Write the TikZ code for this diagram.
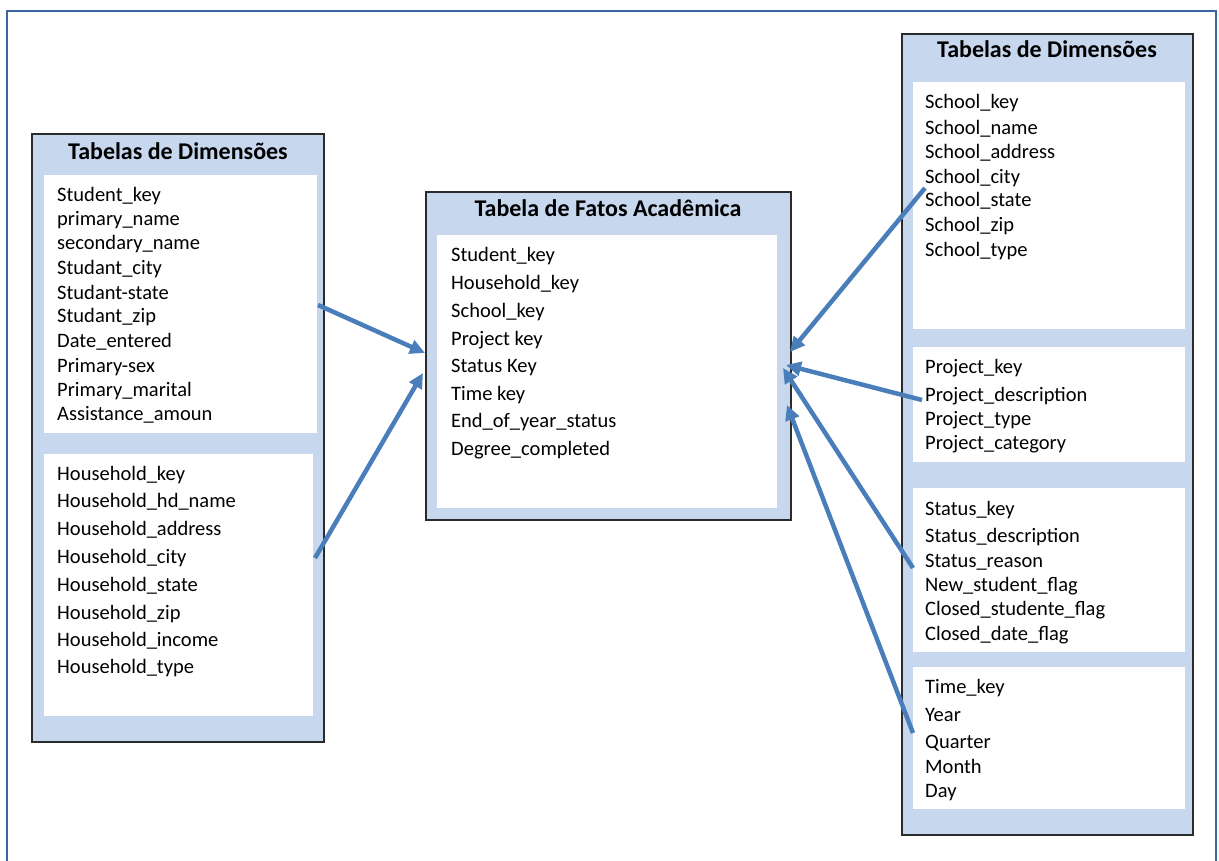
\documentclass[tikz,border=0pt]{standalone}
\usepackage{fontspec}
\setmainfont{Carlito}
\usetikzlibrary{arrows.meta,fit}

\definecolor{frameblue}{HTML}{3A64A2}
\definecolor{bandblue}{HTML}{C6D7EE}
\definecolor{linkblue}{HTML}{4A7EBB}
\definecolor{boxline}{HTML}{2B2B2B}

\tikzset{
  tablebox/.style={draw=boxline, line width=1.3pt, fill=bandblue, inner sep=0pt},
  panel/.style={fill=white, draw=none, inner sep=0pt},
  tabletitle/.style={anchor=base, inner sep=0pt, font=\fontsize{24}{28}\selectfont\bfseries},
  field/.style={anchor=base west, inner sep=0pt, font=\fontsize{20.5}{24}\selectfont},
  link/.style={draw=linkblue, line width=4.5pt, -{Triangle[length=15pt,width=14pt]}}
}

\begin{document}
\begin{tikzpicture}[x=1pt,y=-1pt]
\useasboundingbox (0,0) rectangle (1219,861);
\clip (0,0) rectangle (1219,861);

% outer frame
\draw[frameblue, line width=2pt] (7,11) rectangle (1216,880);

% left dimension tables
\node[tablebox, fit={(32,134) (324,742)}] (L) {};
\node[panel, fit={(44,175) (317,433)}] (Lstudent) {};
\node[panel, fit={(44,454) (313,716)}] (Lhouse) {};
\node[tabletitle] (Ltitle) at (178,160) {Tabelas de Dimensões};
\foreach \yy/\t [count=\i] in {202/Student\_key, 226/primary\_name, 250/secondary\_name,
    275/Studant\_city, 299/Studant-state, 323/Studant\_zip, 347/Date\_entered,
    372/Primary-sex, 396/Primary\_marital, 420/Assistance\_amoun}
  \node[field] (ls\i) at (57,\yy) {\t};
\foreach \yy/\t [count=\i] in {480/Household\_key, 507/Household\_hd\_name,
    535/Household\_address, 563/Household\_city, 591/Household\_state,
    619/Household\_zip, 646/Household\_income, 673/Household\_type}
  \node[field] (lh\i) at (57,\yy) {\t};

% fact table
\node[tablebox, fit={(426,192) (791,520)}] (F) {};
\node[panel, fit={(437,235) (777,508)}] (Fpanel) {};
\node[tabletitle] (Ftitle) at (608,217) {Tabela de Fatos Acadêmica};
\foreach \yy/\t [count=\i] in {262/Student\_key, 290/Household\_key, 317/School\_key,
    345/Project key, 372/Status Key, 400/Time key, 427/End\_of\_year\_status,
    455/Degree\_completed}
  \node[field] (f\i) at (451,\yy) {\t};

% right dimension tables
\node[tablebox, fit={(902,34) (1193,835)}] (R) {};
\node[panel, fit={(913,82) (1185,329)}] (Rschool) {};
\node[panel, fit={(913,347) (1185,462)}] (Rproject) {};
\node[panel, fit={(913,488) (1185,652)}] (Rstatus) {};
\node[panel, fit={(913,667) (1185,809)}] (Rtime) {};
\node[tabletitle] (Rtitle) at (1047,58) {Tabelas de Dimensões};
\foreach \yy/\t [count=\i] in {109/School\_key, 135/School\_name, 159/School\_address,
    184/School\_city, 207/School\_state, 232/School\_zip, 257/School\_type}
  \node[field] (rs\i) at (925,\yy) {\t};
\foreach \yy/\t [count=\i] in {373/Project\_key, 401/Project\_description,
    425/Project\_type, 449/Project\_category}
  \node[field] (rp\i) at (925,\yy) {\t};
\foreach \yy/\t [count=\i] in {515/Status\_key, 542/Status\_description,
    567/Status\_reason, 591/New\_student\_flag, 615/Closed\_studente\_flag,
    640/Closed\_date\_flag}
  \node[field] (rt\i) at (925,\yy) {\t};
\foreach \yy/\t [count=\i] in {693/Time\_key, 721/Year, 748/Quarter, 773/Month, 797/Day}
  \node[field] (rm\i) at (925,\yy) {\t};

% connector end points
\coordinate (s1) at (318,305);  \coordinate (t1) at (425,353);
\coordinate (s2) at (315,558);  \coordinate (t2) at (423,373);
\coordinate (s3) at (925,188);  \coordinate (t3) at (790,352);
\coordinate (s4) at (922,400);  \coordinate (t4) at (786,365);
\coordinate (s5) at (913,568);  \coordinate (t5) at (783,368);
\coordinate (s6) at (913,733);  \coordinate (t6) at (787,405);

\draw[link] (s1) -- (t1);
\draw[link] (s2) -- (t2);
\draw[link] (s3) -- (t3);
\draw[link] (s4) -- (t4);
\draw[link] (s5) -- (t5);
\draw[link] (s6) -- (t6);
\end{tikzpicture}
\end{document}
